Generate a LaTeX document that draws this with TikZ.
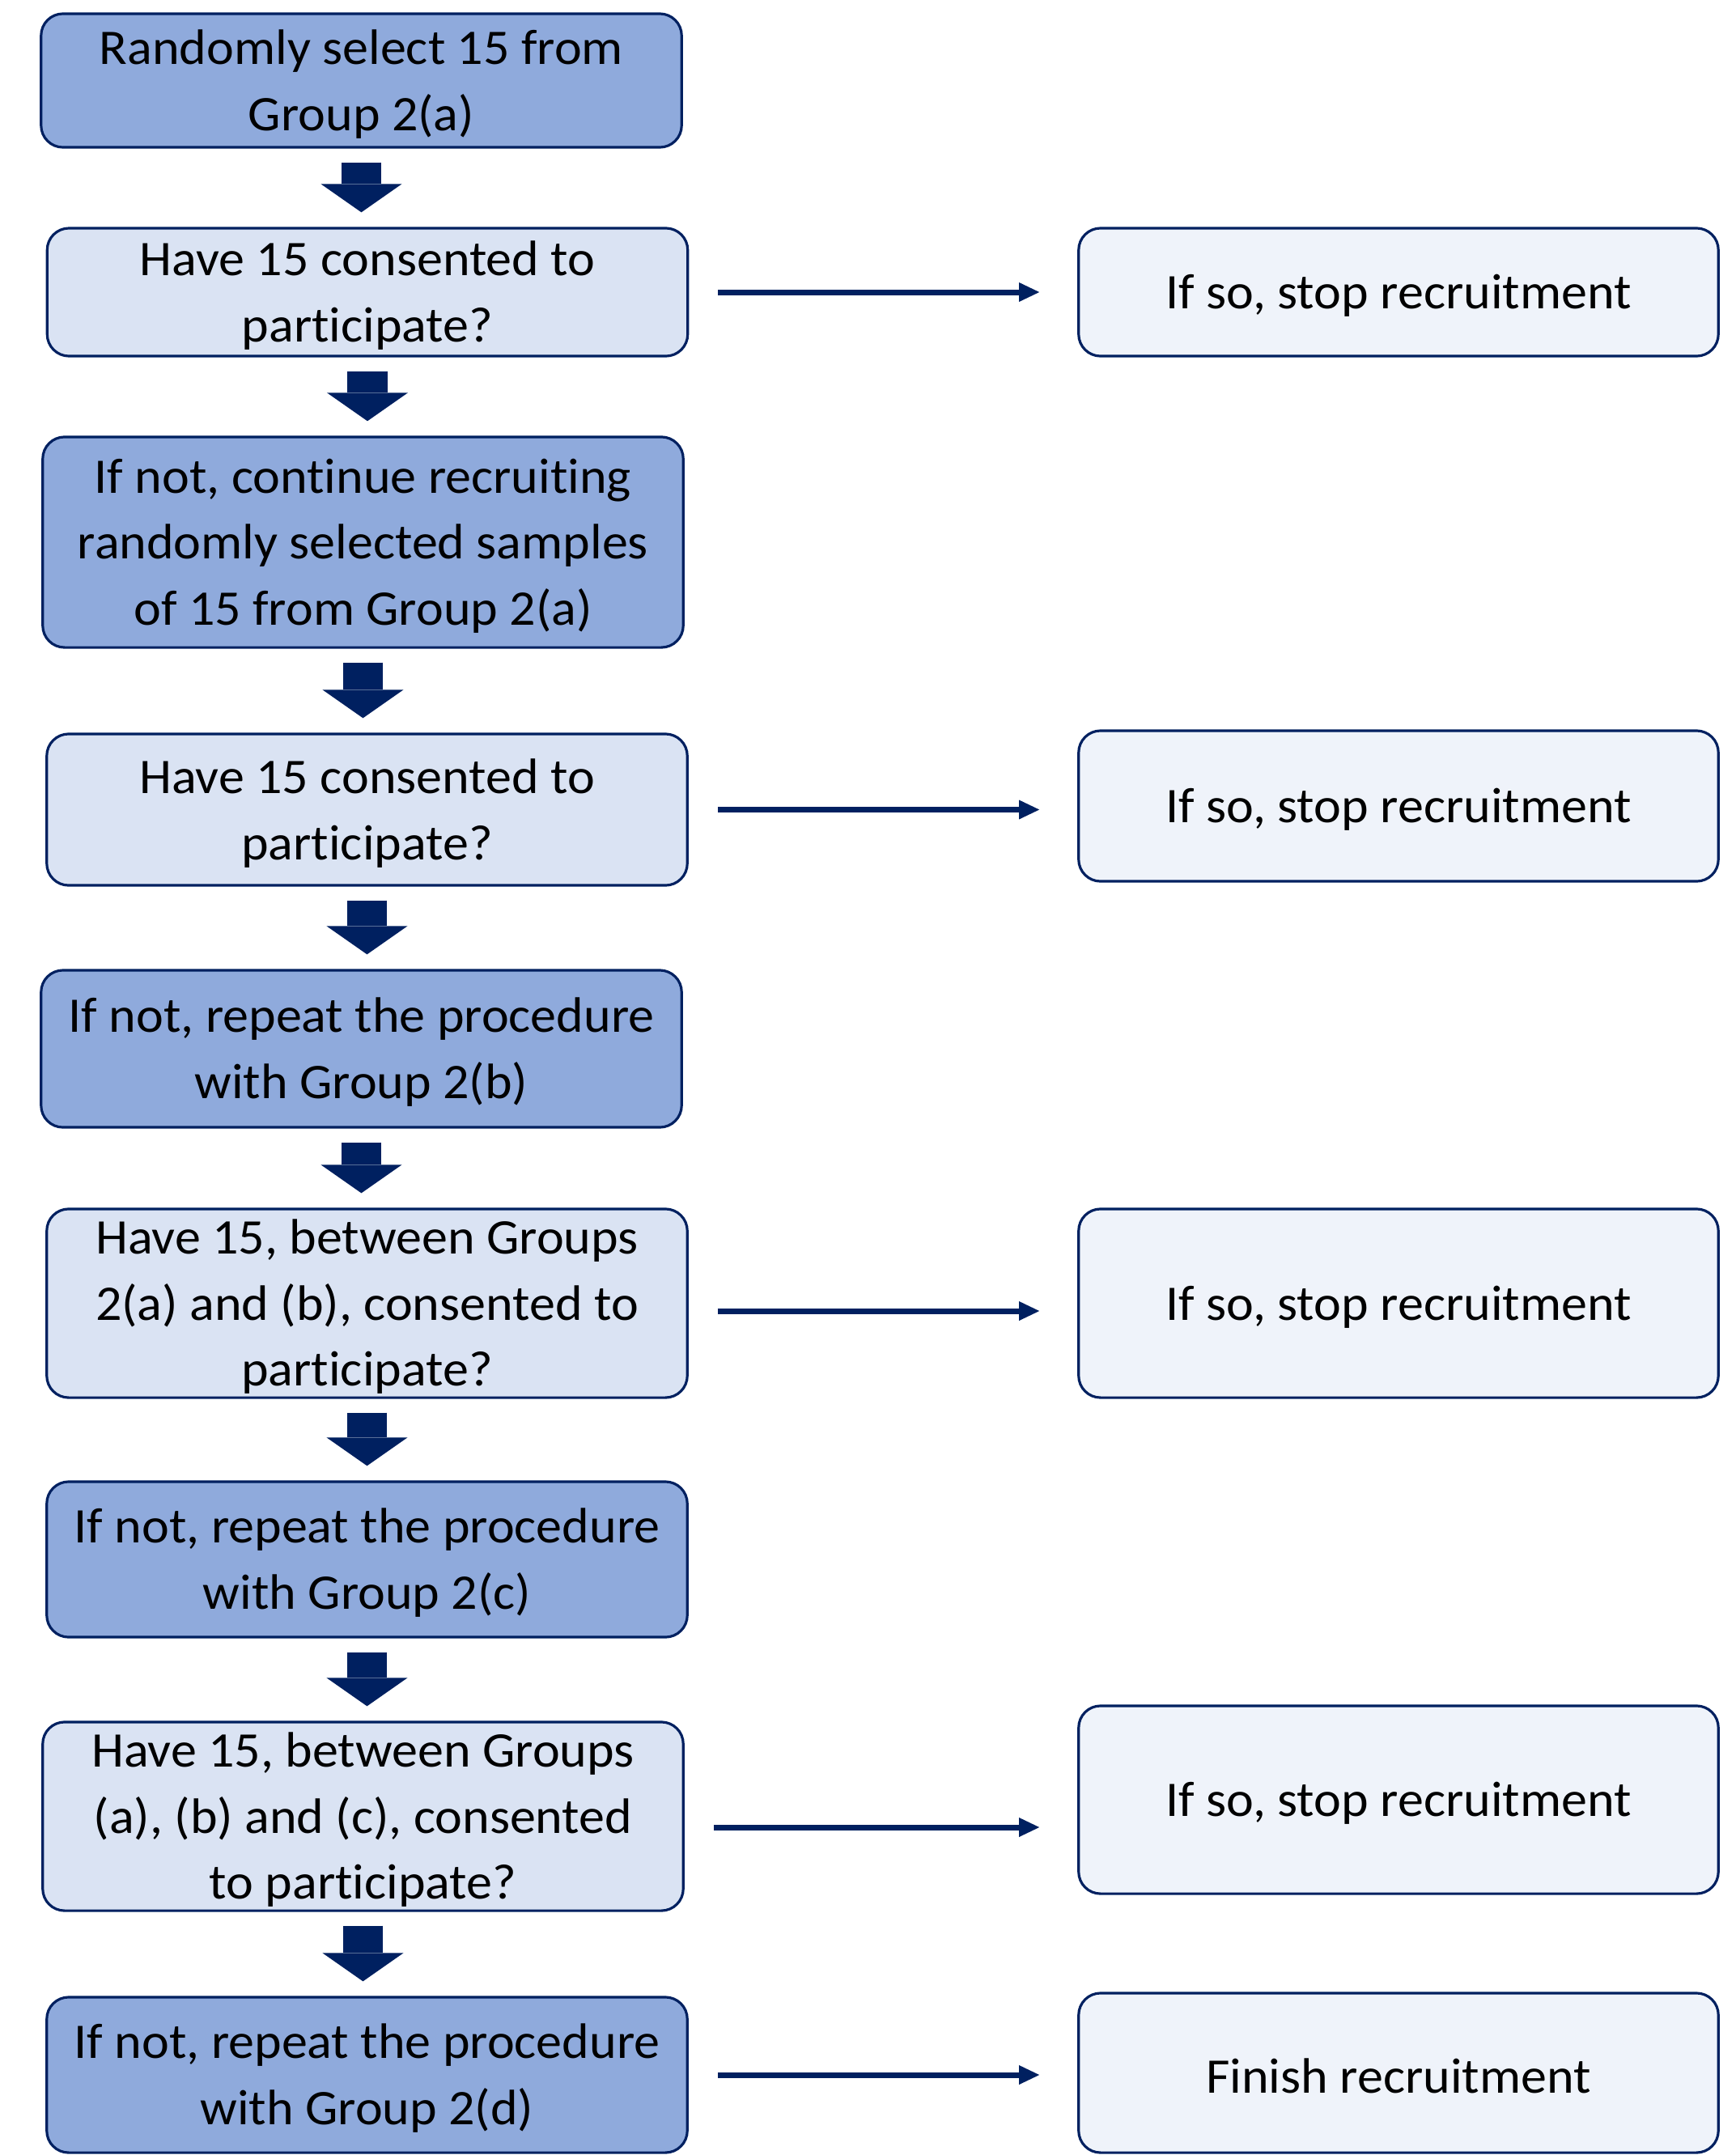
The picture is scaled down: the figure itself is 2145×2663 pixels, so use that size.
\documentclass[tikz,border=0pt]{standalone}
\usepackage{fontspec}
\setmainfont{Carlito}[Ligatures = NoCommon, FakeStretch = 1.04]
\usepackage{tikz}
\usetikzlibrary{arrows.meta}
\definecolor{navyline}{HTML}{002060}
\definecolor{darkfill}{HTML}{8FAADC}
\definecolor{lightfill}{HTML}{DAE3F3}
\definecolor{palefill}{HTML}{EFF3FA}
\newcommand{\firstline}{\rule{0pt}{14.6pt}}

\begin{document}
\begin{tikzpicture}[x = 0.01cm, y = -0.01cm]
		\tikzset{
			box/.style = {draw = navyline, line width = 0.9pt, rounded corners = 0.27cm, align = center, inner sep = 0pt, minimum width = 7.91cm, font = \fontsize{17.5}{23.2}\selectfont},
			darkbox/.style = {box, fill = darkfill},
			lightbox/.style = {box, fill = lightfill},
			palebox/.style = {box, fill = palefill, minimum width = 7.9cm},
			blockarrow/.style = {draw = navyline, line width = 0.49cm, -{Triangle[length = 0.35cm, width = 1cm, line width = 0pt]}, shorten < = 0.17cm, shorten > = 0.18cm},
			flowline/.style = {draw = navyline, line width = 0.07cm, -{Triangle[length = 0.25cm, width = 0.24cm, line width = 0pt]}, shorten < = 0.36cm, shorten > = 0.47cm}
		}
		\useasboundingbox (0,0) rectangle (2145,2663);
		\node[darkbox, minimum height = 1.65cm] (b1) at (446.5,99.5) {\firstline Randomly select 15 from\\Group 2(a)};
		\node[lightbox, minimum height = 1.58cm] (b2) at (454,361) {\firstline Have 15 consented to\\participate?};
		\node[darkbox, minimum height = 2.60cm] (b3) at (448.5,670) {\firstline If not, continue recruiting\\randomly selected samples\\of 15 from Group 2(a)};
		\node[lightbox, minimum height = 1.87cm] (b4) at (453.5,1000.5) {\firstline Have 15 consented to\\participate?};
		\node[darkbox, minimum height = 1.94cm] (b5) at (446.5,1296) {\firstline If not, repeat the procedure\\with Group 2(b)};
		\node[lightbox, minimum height = 2.33cm] (b6) at (453.5,1610.5) {\firstline Have 15, between Groups\\2(a) and (b), consented to\\participate?};
		\node[darkbox, minimum height = 1.92cm] (b7) at (453.5,1927) {\firstline If not, repeat the procedure\\with Group 2(c)};
		\node[lightbox, minimum height = 2.33cm] (b8) at (448.5,2244.5) {\firstline Have 15, between Groups\\(a), (b) and (c), consented\\to participate?};
		\node[darkbox, minimum height = 1.92cm] (b9) at (453.5,2564) {\firstline If not, repeat the procedure\\with Group 2(d)};
		\node[palebox, minimum height = 1.58cm] (r1) at (1728,361) {\firstline If so, stop recruitment};
		\node[palebox, minimum height = 1.86cm] (r2) at (1728,996) {\firstline If so, stop recruitment};
		\node[palebox, minimum height = 2.33cm] (r3) at (1728,1610.5) {\firstline If so, stop recruitment};
		\node[palebox, minimum height = 2.32cm] (r4) at (1728,2224) {\firstline If so, stop recruitment};
		\node[palebox, minimum height = 1.97cm] (r5) at (1728,2561.5) {\firstline Finish recruitment};
		\draw[blockarrow] (b1.south) -- (b1.south |- b2.north);
		\draw[blockarrow] (b2.south) -- (b2.south |- b3.north);
		\draw[blockarrow] (b3.south) -- (b3.south |- b4.north);
		\draw[blockarrow] (b4.south) -- (b4.south |- b5.north);
		\draw[blockarrow] (b5.south) -- (b5.south |- b6.north);
		\draw[blockarrow] (b6.south) -- (b6.south |- b7.north);
		\draw[blockarrow] (b7.south) -- (b7.south |- b8.north);
		\draw[blockarrow] (b8.south) -- (b8.south |- b9.north);
		\draw[flowline] (b2.east) -- (b2.east -| r1.west);
		\draw[flowline] (b4.east) -- (b4.east -| r2.west);
		\draw[flowline] ([yshift = -0.095cm]b6.east) coordinate (s3) -- (s3 -| r3.west);
		\draw[flowline] ([yshift = -0.135cm]b8.east) coordinate (s4) -- (s4 -| r4.west);
		\draw[flowline] (b9.east) -- (b9.east -| r5.west);
	\end{tikzpicture}
\end{document}
